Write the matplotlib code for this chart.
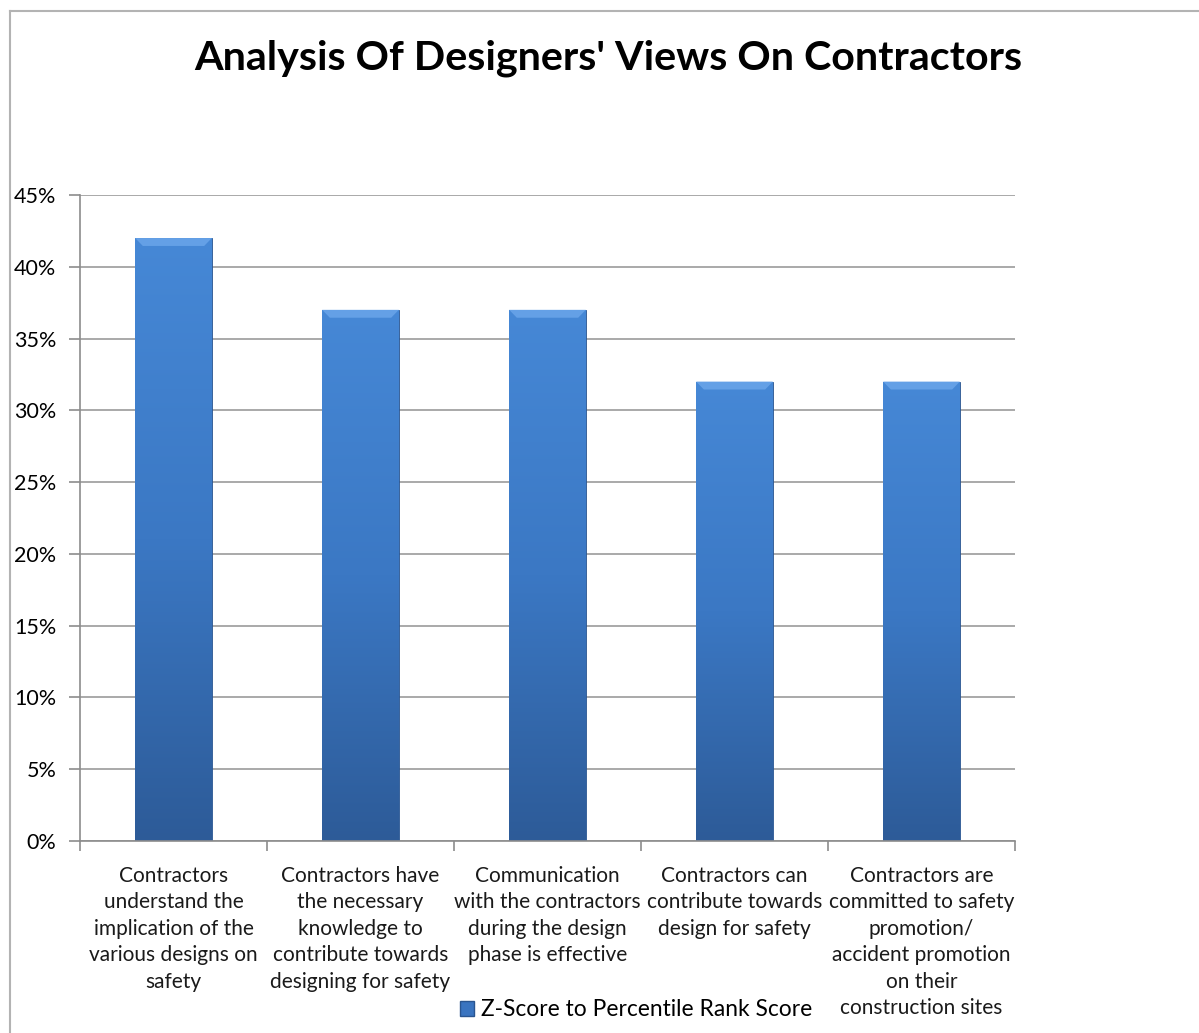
import matplotlib
matplotlib.use("Agg")
import matplotlib.pyplot as plt
from matplotlib.colors import LinearSegmentedColormap
from matplotlib.patches import Patch
from matplotlib.lines import Line2D
from matplotlib.ticker import PercentFormatter, FixedLocator
import numpy as np

plt.rcParams['font.family'] = ['Lato', 'DejaVu Sans']

# data
categories = [
    "Contractors\nunderstand the\nimplication of the\nvarious designs on\nsafety",
    "Contractors have\nthe necessary\nknowledge to\ncontribute towards\ndesigning for safety",
    "Communication\nwith the contractors\nduring the design\nphase is effective",
    "Contractors can\ncontribute towards\ndesign for safety",
    "Contractors are\ncommitted to safety\npromotion/\naccident promotion\non their\nconstruction sites",
]
scores = [42, 37, 37, 32, 32]
series_name = "Z-Score to Percentile Rank Score"
title = "Analysis Of Designers' Views On Contractors"

fig = plt.figure(figsize=(11.99, 10.33), dpi=100)
ax = fig.add_axes([80 / 1199, 1 - 841 / 1033, 935 / 1199, 646 / 1033])

bar_col = '#3a74c0'
cmap = LinearSegmentedColormap.from_list('bar', ['#2d5b98', '#3b78c4', '#4688d6'])
x = np.arange(len(categories))
bars = ax.bar(x, scores, width=0.41, color=bar_col, edgecolor='#2a5590', linewidth=0.6, zorder=2)

grad = np.linspace(0, 1, 256).reshape(-1, 1)
for b in bars:
    x0, w, h = b.get_x(), b.get_width(), b.get_height()
    im = ax.imshow(grad, extent=[x0, x0 + w, 0, h], origin='lower', aspect='auto',
                   cmap=cmap, zorder=2.5)
    im.set_clip_path(b)
    # light bevel on the top edge
    ax.fill([x0, x0 + w, x0 + w * 0.9, x0 + w * 0.1],
            [h, h, h - 0.55, h - 0.55], color='#64a0e6', zorder=3, lw=0)

ax.set_xlim(-0.5, len(categories) - 0.5)
ax.set_ylim(0, 45)
ax.set_yticks(np.arange(0, 46, 5))
ax.yaxis.set_major_formatter(PercentFormatter(xmax=100, decimals=0))
ax.grid(axis='y', color='#a9a9a9', linewidth=1.4, zorder=0)
ax.set_axisbelow(True)

ax.set_xticks(x)
ax.set_xticklabels(categories, fontsize=15, linespacing=1.4, va='top', color='#1a1a1a')
ax.xaxis.set_minor_locator(FixedLocator(np.arange(-0.5, len(categories), 1)))
ax.tick_params(axis='x', which='major', length=0, pad=18)
ax.tick_params(axis='x', which='minor', length=7, width=1.2, color='#8c8c8c')
ax.tick_params(axis='y', length=8, width=1.2, color='#8c8c8c', labelsize=15.5, pad=9)

for s in ['top', 'right']:
    ax.spines[s].set_visible(False)
for s in ['left', 'bottom']:
    ax.spines[s].set_color('#8c8c8c')
    ax.spines[s].set_linewidth(1.2)

fig.text(608 / 1199, 1 - 58 / 1033, title, ha='center', va='center',
         fontsize=29.7, fontweight='bold', color='black')

fig.legend(handles=[Patch(facecolor=bar_col, edgecolor='#2a5590', label=series_name)],
           loc='center', bbox_to_anchor=(636 / 1199, 1 - 1010 / 1033), frameon=False,
           fontsize=16.4, handlelength=0.6, handleheight=0.6, handletextpad=0.3)

# chart-area border (top and left edges visible)
fig.add_artist(Line2D([10 / 1199, 1], [1 - 11 / 1033, 1 - 11 / 1033],
                      transform=fig.transFigure, color='#b3b3b3', lw=1.5))
fig.add_artist(Line2D([10 / 1199, 10 / 1199], [1 - 11 / 1033, 0],
                      transform=fig.transFigure, color='#b3b3b3', lw=1.5))

fig.savefig('out.png', dpi=100, facecolor='white')
